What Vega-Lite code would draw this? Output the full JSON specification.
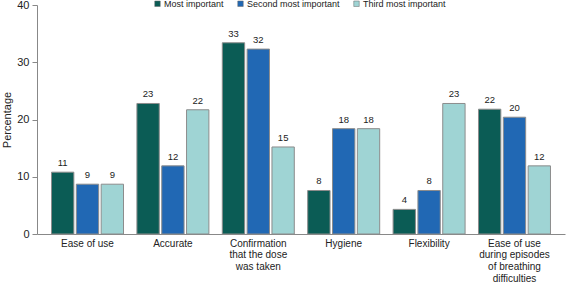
{
  "$schema": "https://vega.github.io/schema/vega-lite/v6.json",
  "width": 528,
  "height": 229,
  "autosize": {"type": "none"},
  "padding": {"left": 37, "top": 5, "right": 2, "bottom": 50},
  "background": "white",
  "config": {
    "font": "Liberation Sans",
    "view": {"stroke": null},
    "axis": {"grid": false, "domainColor": "#888", "tickColor": "#888", "labelColor": "#222", "titleColor": "#222", "labelFontSize": 11, "titleFontSize": 11, "titleFontWeight": "normal"}
  },
  "data": {
    "values": [
      {"attribute": "Ease of use", "rank": "Most important", "pct": 10.8},
      {"attribute": "Ease of use", "rank": "Second most important", "pct": 8.7},
      {"attribute": "Ease of use", "rank": "Third most important", "pct": 8.7},
      {"attribute": "Accurate", "rank": "Most important", "pct": 22.8},
      {"attribute": "Accurate", "rank": "Second most important", "pct": 11.9},
      {"attribute": "Accurate", "rank": "Third most important", "pct": 21.7},
      {"attribute": "Confirmation that the dose was taken", "rank": "Most important", "pct": 33.4},
      {"attribute": "Confirmation that the dose was taken", "rank": "Second most important", "pct": 32.3},
      {"attribute": "Confirmation that the dose was taken", "rank": "Third most important", "pct": 15.2},
      {"attribute": "Hygiene", "rank": "Most important", "pct": 7.6},
      {"attribute": "Hygiene", "rank": "Second most important", "pct": 18.4},
      {"attribute": "Hygiene", "rank": "Third most important", "pct": 18.4},
      {"attribute": "Flexibility", "rank": "Most important", "pct": 4.3},
      {"attribute": "Flexibility", "rank": "Second most important", "pct": 7.6},
      {"attribute": "Flexibility", "rank": "Third most important", "pct": 22.8},
      {"attribute": "Ease of use during episodes of breathing difficulties", "rank": "Most important", "pct": 21.8},
      {"attribute": "Ease of use during episodes of breathing difficulties", "rank": "Second most important", "pct": 20.4},
      {"attribute": "Ease of use during episodes of breathing difficulties", "rank": "Third most important", "pct": 11.9}
    ]
  },
  "encoding": {
    "x": {
      "field": "attribute", "type": "nominal", "sort": null,
      "scale": {"paddingInner": 0.157, "paddingOuter": 0.17},
      "axis": {
        "title": null, "ticks": false, "labelAngle": 0, "labelPadding": 4, "labelLineHeight": 11.7, "labelFontSize": 10,
        "labelExpr": "datum.label == 'Confirmation that the dose was taken' ? ['Confirmation', 'that the dose', 'was taken'] : datum.label == 'Ease of use during episodes of breathing difficulties' ? ['Ease of use', 'during episodes', 'of breathing', 'difficulties'] : datum.label"
      }
    },
    "xOffset": {"field": "rank", "type": "nominal", "scale": {"paddingInner": 0.1, "paddingOuter": 0}},
    "y": {
      "field": "pct", "type": "quantitative",
      "scale": {"domain": [0, 40]},
      "axis": {"title": "Percentage", "values": [0, 10, 20, 30, 40], "tickSize": 5, "labelPadding": 3, "titlePadding": 4}
    }
  },
  "layer": [
    {
      "mark": {"type": "bar", "stroke": "#8c8c8c", "strokeWidth": 1},
      "encoding": {
        "color": {
          "field": "rank", "type": "nominal",
          "scale": {"domain": ["Most important", "Second most important", "Third most important"], "range": ["#0b5c55", "#2168b4", "#9fd4d4"]},
          "legend": {
            "title": null, "orient": "none", "direction": "horizontal", "legendX": 116, "legendY": -6,
            "symbolType": "square", "symbolSize": 30, "symbolStrokeColor": "#666", "symbolStrokeWidth": 0.5,
            "labelFontSize": 9, "labelColor": "#222", "labelOffset": 2, "columnPadding": 12
          }
        }
      }
    },
    {
      "mark": {"type": "text", "baseline": "bottom", "dy": -4, "fontSize": 9.5, "color": "#222"},
      "encoding": {"text": {"field": "pct", "type": "quantitative", "format": ".0f"}}
    }
  ]
}
